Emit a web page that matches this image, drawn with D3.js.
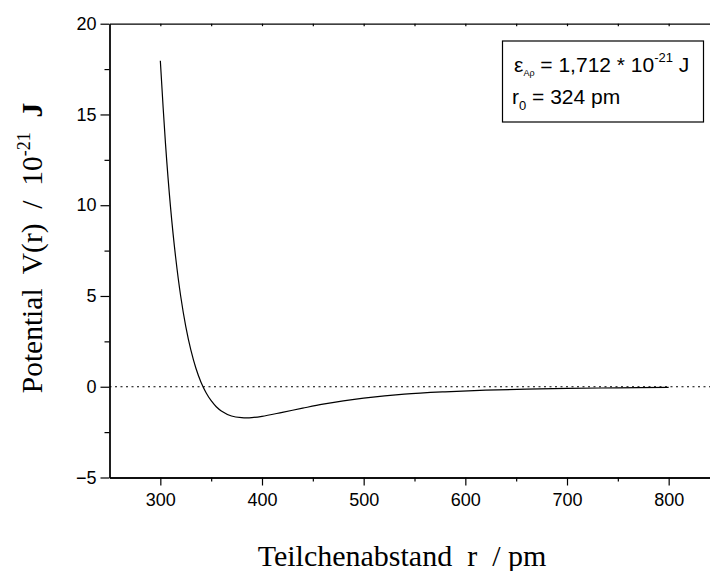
<!DOCTYPE html>
<html><head><meta charset="utf-8">
<script src="https://cdn.jsdelivr.net/npm/d3@7/dist/d3.min.js"></script>
<style>body{margin:0;background:#fff}svg{display:block}</style>
</head><body>
<script>
// r in pm, V in 10^-21 J
const rValues = [300,305,310,315,320,325,330,335,340,345,350,355,360,370,380,390,400,420,440,460,480,500,540,580,620,660,700,750,800];
const vValues = [17.96,13.45,9.91,7.16,5.00,3.33,2.03,1.02,0.25,-0.33,-0.77,-1.10,-1.33,-1.61,-1.70,-1.70,-1.63,-1.41,-1.18,-0.96,-0.78,-0.63,-0.41,-0.28,-0.19,-0.13,-0.09,-0.06,-0.04];
const xMajorTicks = [300,400,500,600,700,800];
const xMinorTicks = [350,450,550,650,750];
const yMajorTicks = [-5,0,5,10,15,20];
const yMinorTicks = [-2.5,2.5,7.5,12.5,17.5];

const W = 710, H = 571;
const pLeft = 109.5, pRight = 719.5, pTop = 23.7, pBottom = 477.5;
const svg = d3.select("body").append("svg").attr("width", W).attr("height", H);
const x = d3.scaleLinear().domain([250, 850]).range([pLeft, pRight]);
const y = d3.scaleLinear().domain([-5, 20]).range([pBottom, pTop]);

// zero dotted line
svg.append("line").attr("x1", pLeft).attr("x2", pRight).attr("y1", y(0)).attr("y2", y(0))
  .attr("stroke", "#000").attr("stroke-width", 1.2).attr("stroke-dasharray", "2,3.5");

// curve
const data = rValues.map((r, i) => [r, vValues[i]]);
svg.append("path").datum(data)
  .attr("d", d3.line().x(d => x(d[0])).y(d => y(d[1])).curve(d3.curveCatmullRom.alpha(0.5)))
  .attr("fill", "none").attr("stroke", "#000").attr("stroke-width", 1.2);

// axes
const fontSans = "'Liberation Sans', Arial, sans-serif";
const bAx = svg.append("g").attr("transform", `translate(0,${pBottom})`)
  .call(d3.axisBottom(x).tickValues(xMajorTicks).tickSize(8).tickSizeOuter(0).tickPadding(8));
bAx.selectAll("text").attr("font-size", 18).attr("font-family", fontSans).attr("fill", "#000");
svg.append("g").attr("transform", `translate(0,${pBottom})`)
  .call(d3.axisBottom(x).tickValues(xMinorTicks).tickSize(4).tickSizeOuter(0).tickFormat(""));

svg.append("g").attr("transform", `translate(0,${pTop})`)
  .call(d3.axisBottom(x).tickValues(xMajorTicks.concat(xMinorTicks)).tickSize(2.5).tickSizeOuter(0).tickFormat(""));

const lAx = svg.append("g").attr("transform", `translate(${pLeft},0)`)
  .call(d3.axisLeft(y).tickValues(yMajorTicks).tickSize(9).tickSizeOuter(0).tickPadding(4));
lAx.selectAll("text").attr("font-size", 18).attr("font-family", fontSans).attr("fill", "#000");
svg.append("g").attr("transform", `translate(${pLeft},0)`)
  .call(d3.axisLeft(y).tickValues(yMinorTicks).tickSize(5).tickSizeOuter(0).tickFormat(""));

svg.selectAll(".domain").attr("stroke", "#000").attr("stroke-width", 1.3);
svg.selectAll(".tick line").attr("stroke", "#000").attr("stroke-width", 1.2);

// axis titles
const fontSerif = "'Liberation Serif', 'Times New Roman', serif";
svg.append("text").attr("x", 402).attr("y", 566)
  .attr("text-anchor", "middle").attr("font-family", fontSerif).attr("font-size", 30)
  .attr("xml:space", "preserve").text("Teilchenabstand  r  / pm");

const yt = svg.append("text").attr("transform", `translate(42,248) rotate(-90)`)
  .attr("text-anchor", "middle").attr("font-family", fontSerif).attr("font-size", 29.5)
  .attr("xml:space", "preserve");
yt.append("tspan").text("Potential  V(r)  /  10");
yt.append("tspan").attr("dy", -12).attr("font-size", 18).text("-21");
yt.append("tspan").attr("dy", 12).text("  ");
yt.append("tspan").attr("font-weight", "bold").text("J");

// legend box
svg.append("rect").attr("x", 502.5).attr("y", 41).attr("width", 201).attr("height", 81)
  .attr("fill", "#fff").attr("stroke", "#000").attr("stroke-width", 1.2);
const l1 = svg.append("text").attr("x", 514).attr("y", 72).attr("font-family", fontSans).attr("font-size", 21);
l1.append("tspan").text("ε");
l1.append("tspan").attr("dy", 4).attr("font-size", 9).text("Aρ");
l1.append("tspan").attr("dy", -4).text(" = 1,712 * 10");
l1.append("tspan").attr("dy", -10).attr("font-size", 13).text("-21");
l1.append("tspan").attr("dy", 10).text(" J");
const l2 = svg.append("text").attr("x", 512).attr("y", 104).attr("font-family", fontSans).attr("font-size", 21);
l2.append("tspan").text("r");
l2.append("tspan").attr("dy", 6).attr("font-size", 13).text("0");
l2.append("tspan").attr("dy", -6).text(" = 324 pm");
</script>
</body></html>
